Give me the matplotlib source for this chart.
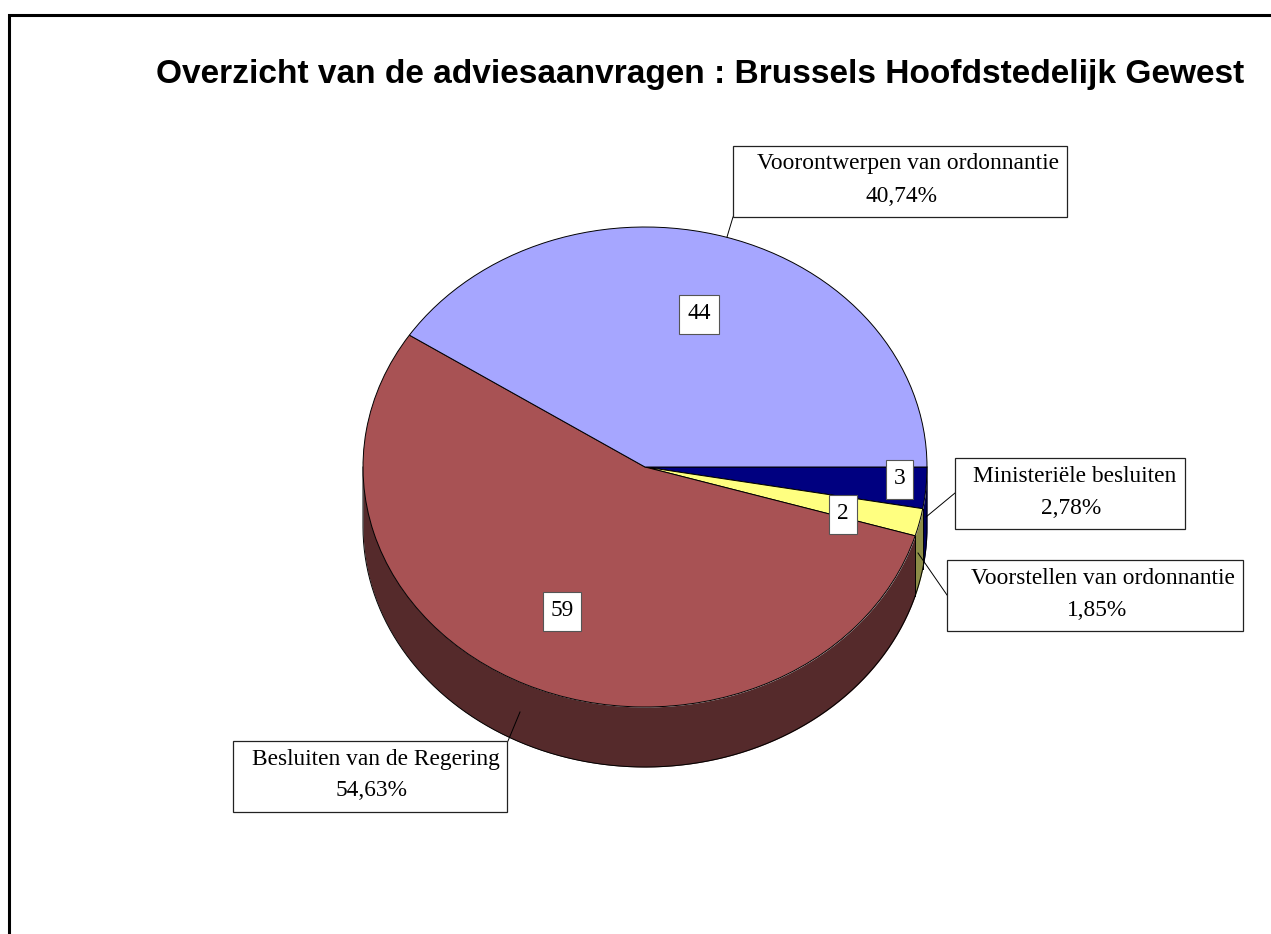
"""
plot.py

3d looking pie of the advice requests, drawn as a squashed pie with a wall under it
"""
import numpy as np
import matplotlib
matplotlib.use('Agg')
import matplotlib.pyplot as plt
from matplotlib.patches import Rectangle

values = [3, 2, 59, 44]
names = ['Ministeriële besluiten', 'Voorstellen van ordonnantie',
         'Besluiten van de Regering', 'Voorontwerpen van ordonnantie']
percents = ['2,78%', '1,85%', '54,63%', '40,74%']
title = 'Overzicht van de adviesaanvragen : Brussels Hoofdstedelijk Gewest'

top_colors = ['#000080', '#FFFF80', '#A85254', '#A6A6FF']
wall_colors = ['#000059', '#8C8C47', '#552A2B', '#7474B3']

W, H = 1271, 934
cx, cy, rx, ry, depth = 645, 467, 282, 240, 60

fig = plt.figure(figsize=(W / 100, H / 100), dpi=100, facecolor='white')

# pie axes: one data unit is rx pixels across and ry pixels high
ax = fig.add_axes([0, 0, 1, 1])
ax.pie(values, colors=top_colors, startangle=0, counterclock=False, radius=1,
       frame=True, wedgeprops={'edgecolor': 'black', 'linewidth': 0.7, 'zorder': 3})
ax.set_aspect('auto')
ax.set_xlim(-cx / rx, (W - cx) / rx)
ax.set_ylim((cy - H) / ry, cy / ry)
ax.axis('off')

# side wall, only the front half shows
edges = np.cumsum([0] + values) / sum(values) * 360
for start, end, col in zip(edges[:-1], edges[1:], wall_colors):
    end = min(end, 180)
    if start >= 180:
        continue
    t = np.radians(np.linspace(start, end, 200))
    xs = np.cos(t)
    ys = -np.sin(t)
    ax.fill_between(xs, ys, ys - depth / ry, color=col, lw=0, zorder=1)
    if end < 180:
        ax.plot([xs[-1], xs[-1]], [ys[-1], ys[-1] - depth / ry], color='black', lw=0.7, zorder=2)

# outline of the wall as one path so the corners join up
t = np.radians(np.linspace(0, 180, 400))
ax.plot(np.r_[1, np.cos(t), -1], np.r_[0, -np.sin(t) - depth / ry, 0], color='black', lw=0.7, zorder=2)

# overlay in pixel coordinates for frame, labels and leaders
ov = fig.add_axes([0, 0, 1, 1])
ov.set_xlim(0, W)
ov.set_ylim(H, 0)
ov.axis('off')
ov.patch.set_alpha(0)

ov.plot([8.5, 8.5, W], [H, 14.5, 14.5], color='black', lw=2.2, solid_joinstyle='miter')
ov.text(700.5, 74, title, family='Liberation Sans', weight='bold', fontsize=24.1,
        ha='center', va='center', color='black')

SERIF = 'Liberation Serif'


def name_box(x0, y0, x1, y1, name, pct, name_x, pct_x, leader):
    ov.add_patch(Rectangle((x0, y0), x1 - x0, y1 - y0, fc='white', ec='#222222', lw=0.9, zorder=5))
    ov.text(name_x, y0 + 18, name, family=SERIF, fontsize=16.8, ha='center', va='center', zorder=6)
    ov.text(pct_x, y0 + 50, pct, family=SERIF, fontsize=16.8, ha='center', va='center', zorder=6)
    ov.plot(leader[0], leader[1], color='black', lw=0.7, zorder=4)


def value_box(x0, y0, x1, y1, val):
    ov.add_patch(Rectangle((x0, y0), x1 - x0, y1 - y0, fc='white', ec='#555555', lw=0.8, zorder=5))
    ov.text((x0 + x1) / 2, (y0 + y1) / 2 - 1, str(val), family=SERIF, fontsize=16.8,
            ha='center', va='center', zorder=6)


name_box(955, 458, 1185, 529, names[0], percents[0], 1075, 1071, ([926, 955], [517, 493]))
name_box(947, 560, 1243, 631, names[1], percents[1], 1103, 1097, ([918, 947], [553, 595]))
name_box(233, 741, 507, 812, names[2], percents[2], 376, 372, ([520, 508], [712, 741]))
name_box(733, 146, 1067, 217, names[3], percents[3], 908, 902, ([727, 733], [237, 217]))

value_box(886, 460, 913, 499, values[0])
value_box(829, 495, 857, 534, values[1])
value_box(543, 592, 581, 631, values[2])
value_box(679, 295, 719, 334, values[3])

fig.savefig('out.png', dpi=100, facecolor='white')
